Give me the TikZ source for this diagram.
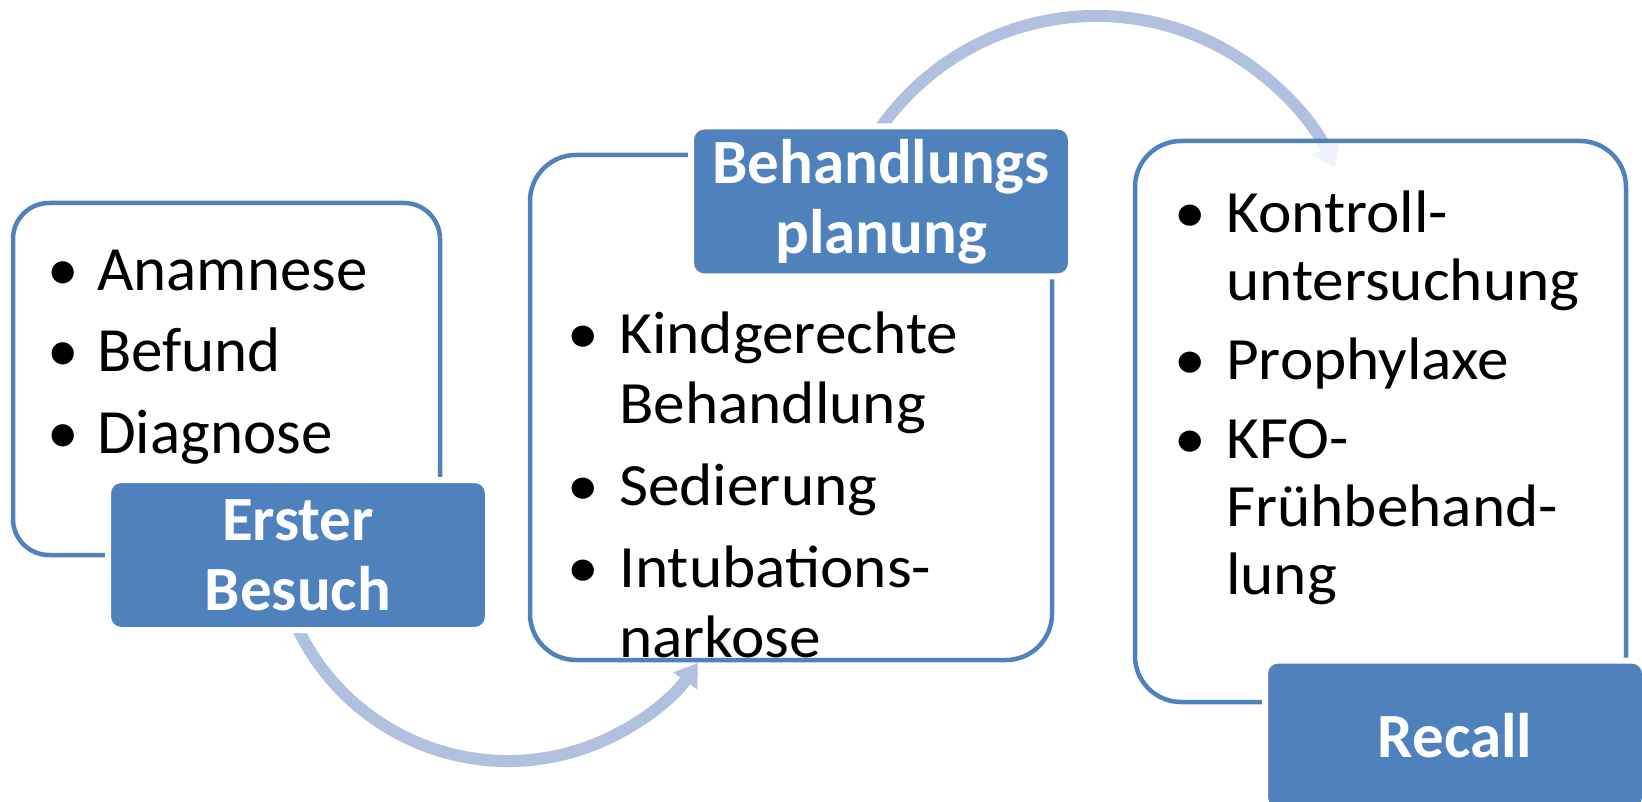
\documentclass[tikz,border=0pt]{standalone}
\usepackage{fontspec}
\setmainfont{Carlito}
\newfontfamily\widefont[FakeStretch=1.055]{Carlito}
\usetikzlibrary{arrows.meta,calc}
\definecolor{accent}{RGB}{79,129,189}
\definecolor{arrowc}{RGB}{176,192,222}
\newcommand\itm{\makebox[0pt]{•}\hspace*{34pt}}
\newcommand\itmb{\makebox[0pt]{•}\hspace*{36pt}}
\begin{document}
\begin{tikzpicture}[x=1pt,y=-1pt,
  box/.style={draw=accent, line width=4.5pt, fill=white, fill opacity=0.8, inner sep=0pt, outer sep=0pt},
  lab/.style={fill=accent, draw=white, line width=6pt, rounded corners=13pt, minimum width=380pt, minimum height=150pt, inner sep=0pt, text=white, font=\fontsize{63}{70}\selectfont\bfseries, align=center},
  flow/.style={draw=arrowc, line width=12pt, -{Triangle[width=28pt,length=22pt]}},
  list/.style={anchor=base west, inner sep=0pt, align=left, text=black}]
\useasboundingbox (0,0) rectangle (1642,802);
\clip (0,0) rectangle (1642,802);
% arcs
\coordinate (c1) at (508,528);
\coordinate (c2) at (1096.2,279.5);
\coordinate (a1s) at ($(c1)+(160:233)$);
\coordinate (a2s) at ($(c2)+(-150:263.5)$);
\draw[flow] (a1s) arc[start angle=160, end angle=35.4, radius=233];
\draw[flow] (a2s) arc[start angle=-150, end angle=-25, radius=263.5];
% content boxes
\node[box, minimum width=427pt, minimum height=352pt, rounded corners=36pt] (b1) at (226.5,379) {};
\node[box, minimum width=522pt, minimum height=505pt, rounded corners=46pt] (b2) at (791,407.5) {};
\node[box, minimum width=491pt, minimum height=561pt, rounded corners=46pt] (b3) at (1380.5,421.5) {};
% labels
\node[lab] (l1) at (298,555) {Erster\\Besuch};
\node[lab] (l2) at (881,201.5) {Behandlungs\\planung};
\node[lab] (l3) at (1455,735.5) {Recall};
% lists (base anchor = baseline of last line)
\node[list, font=\fontsize{63}{81.5}\selectfont] (t1) at (63,453)
  {\itm Anamnese\\\itm Befund\\\itm Diagnose};
\node[list, font=\widefont\fontsize{60}{70}\selectfont] (t2) at (583,657)
  {\itmb Kindgerechte\\\hspace*{36pt}Behandlung\\[12pt]\itmb Sedierung\\[12pt]\itmb Intubations-\\\hspace*{36pt}narkose};
\node[list, font=\widefont\fontsize{60}{68}\selectfont] (t3) at (1190,594)
  {\itmb Kontroll-\\\hspace*{36pt}untersuchung\\[11pt]\itmb Prophylaxe\\[11pt]\itmb KFO-\\\hspace*{36pt}Frühbehand-\\\hspace*{36pt}lung};
\end{tikzpicture}
\end{document}
